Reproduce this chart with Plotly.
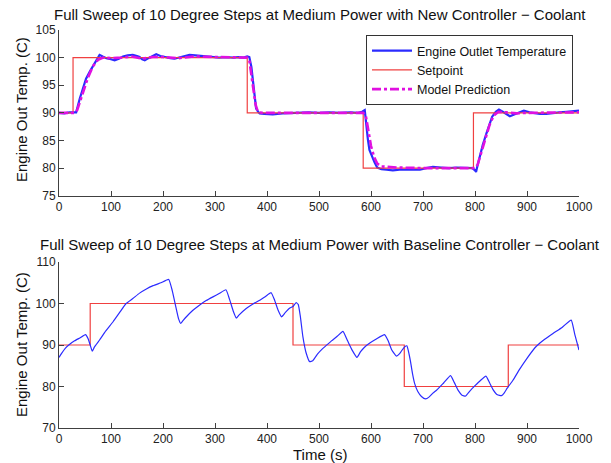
import plotly.graph_objects as go
from plotly.subplots import make_subplots

# ---------------- Data ----------------
# Top: new controller
sp_top_t = [0, 27, 362, 585, 797, 1000]
sp_top_v = [90, 100, 90, 80, 90, 90]

temp_top_t = [0, 10, 20, 30, 33, 40, 52, 60, 68, 78, 84, 91, 100, 107, 115, 123, 132, 142, 150, 155,
              160, 165, 172, 178, 187, 195, 206, 214, 222, 232, 242, 251, 262, 273, 283, 295, 308, 320,
              335, 345, 355, 362, 366, 370, 373, 376, 379, 383, 386, 395, 411, 430, 450, 463, 480, 500,
              520, 540, 560, 575, 583, 588, 591, 594, 597, 602, 607, 612, 620, 630, 642, 655, 670, 682,
              694, 706, 719, 735, 750, 765, 783, 795, 800, 802, 805, 809, 815, 822, 828, 833, 840, 846,
              855, 867, 880, 894, 905, 915, 925, 937, 950, 962, 976, 988, 1000]
temp_top_v = [90.0, 89.9, 90.1, 90.0, 90.1, 92.6, 96.2, 97.6, 98.9, 100.5, 100.2, 99.9, 99.7, 99.5, 99.8,
              100.2, 100.4, 100.5, 100.3, 100.1, 99.7, 99.5, 99.9, 100.2, 100.6, 100.3, 100.0, 99.9, 99.8,
              100.0, 100.3, 100.5, 100.4, 100.3, 100.3, 100.1, 100.0, 100.1, 100.0, 100.1, 100.0, 100.2,
              100.1, 98.3, 95.5, 93.0, 90.8, 90.2, 89.9, 89.8, 89.7, 89.9, 90.0, 90.0, 90.1, 90.0, 90.1,
              90.0, 90.1, 90.0, 90.2, 90.5, 87.5, 85.2, 83.3, 82.0, 81.0, 80.1, 79.8, 79.7, 79.6, 79.7,
              79.7, 79.8, 79.7, 80.0, 80.2, 80.1, 80.0, 80.1, 80.0, 80.0, 79.6, 79.3, 80.5, 82.0, 84.2,
              86.3, 88.0, 89.3, 90.2, 90.6, 90.1, 89.4, 89.9, 90.4, 90.1, 89.9, 89.8, 89.8, 90.0, 90.1,
              90.2, 90.3, 90.4]

model_t = [0, 30, 35, 45, 55, 65, 75, 85, 100, 120, 140, 160, 180, 200, 230, 260, 300, 340, 362, 366,
           370, 374, 378, 382, 390, 420, 480, 540, 585, 590, 595, 600, 606, 612, 620, 650, 700, 750,
           800, 805, 812, 820, 828, 836, 845, 860, 880, 900, 940, 1000]
model_v = [90.0, 90.0, 90.5, 93.5, 96.2, 98.4, 99.6, 100.0, 99.9, 100.0, 100.2, 99.8, 100.1, 100.1,
           99.9, 100.2, 100.1, 100.0, 100.0, 99.5, 97.0, 94.0, 91.5, 90.3, 90.0, 90.0, 90.0, 90.0, 90.0,
           89.5, 86.5, 84.0, 82.0, 80.8, 80.3, 80.1, 80.0, 80.0, 80.0, 80.6, 82.8, 85.5, 87.8, 89.5,
           90.2, 90.1, 89.9, 90.0, 90.0, 90.1]

# Bottom: baseline controller
sp_bot_t = [0, 60, 450, 664, 864, 1000]
sp_bot_v = [90, 100, 90, 80, 90, 90]

temp_bot_t = [0, 5, 12, 20, 30, 40, 51, 56, 60, 64, 68, 78, 90, 104, 117, 129, 142, 155, 168, 181, 196,
              211, 218, 225, 230, 234, 238, 245, 257, 270, 283, 296, 308, 321, 328, 335, 341, 346, 360,
              373, 386, 397, 408, 414, 421, 428, 435, 444, 450, 456, 460, 464, 469, 475, 482, 488, 497,
              506, 514, 524, 535, 546, 555, 564, 573, 580, 587, 597, 611, 626, 633, 640, 649, 655, 660,
              665, 669, 672, 676, 680, 684, 690, 697, 705, 712, 719, 726, 740, 753, 760, 768, 775, 782,
              790, 800, 810, 821, 828, 835, 843, 851, 856, 862, 873, 885, 900, 918, 934, 950, 968, 985,
              992, 1000]
temp_bot_v = [87.0, 88.0, 89.2, 90.1, 91.0, 91.7, 92.5, 91.5, 90.0, 88.5, 89.5, 91.2, 93.4, 95.6, 97.9,
              100.0, 101.2, 102.5, 103.5, 104.3, 105.0, 105.8, 103.0, 99.0, 96.3, 95.2, 95.8, 96.8,
              98.3, 99.6, 100.7, 101.6, 102.4, 103.3, 101.0, 98.2, 96.5, 97.2, 98.8, 99.9, 100.8, 101.7,
              102.6, 101.0, 98.5, 96.8, 97.8, 98.9, 99.3, 100.2, 99.8, 97.0, 92.0, 88.2, 86.0, 86.2,
              87.8, 89.0, 89.9, 91.0, 92.1, 93.3, 91.0, 88.7, 87.0, 88.4, 89.4, 90.4, 91.5, 92.5, 91.0,
              88.8, 87.3, 87.9, 88.8, 89.6, 89.8, 88.5, 86.0, 83.0, 80.7, 78.8, 77.6, 77.0, 77.5, 78.4,
              79.1, 80.9, 82.6, 81.0, 79.0, 77.9, 77.7, 78.9, 80.2, 81.4, 82.5, 80.9, 79.2, 78.0, 77.8,
              78.4, 79.6, 81.5, 84.0, 86.8, 89.7, 91.4, 92.8, 94.3, 96.0, 92.5, 88.8]

x_ticks = [0, 100, 200, 300, 400, 500, 600, 700, 800, 900, 1000]
y_ticks_top = [75, 80, 85, 90, 95, 100, 105]
y_ticks_bot = [70, 80, 90, 100, 110]

title_top = "Full Sweep of 10 Degree Steps at Medium Power with New Controller \u2212 Coolant"
title_bot = "Full Sweep of 10 Degree Steps at Medium Power with Baseline Controller \u2212 Coolant"
ylab = "Engine Out Temp. (C)"
xlab = "Time (s)"

# ---------------- Figure ----------------
FONT = "Liberation Sans, Arial, sans-serif"
W, H = 611, 463
ML, MR, MT, MB = 59, 32, 30, 35
PH = H - MT - MB
top_dom = [1 - (195.7 - MT) / PH, 1.0]
bot_dom = [0.0, 1 - (262 - MT) / PH]

fig = make_subplots(rows=2, cols=1)
BLUE = "#2b2bff"
RED = "#f04040"
MAG = "#e010e0"

fig.add_trace(go.Scatter(x=temp_top_t, y=temp_top_v, mode="lines", name="Engine Outlet Temperature",
                         line=dict(color=BLUE, width=2.2)), row=1, col=1)
fig.add_trace(go.Scatter(x=sp_top_t, y=sp_top_v, mode="lines", name="Setpoint",
                         line=dict(color=RED, width=1.2, shape="hv")), row=1, col=1)
fig.add_trace(go.Scatter(x=model_t, y=model_v, mode="lines", name="Model Prediction",
                         line=dict(color=MAG, width=2.6, dash="dashdot")), row=1, col=1)

fig.add_trace(go.Scatter(x=sp_bot_t, y=sp_bot_v, mode="lines", showlegend=False,
                         line=dict(color=RED, width=1.2, shape="hv")), row=2, col=1)
fig.add_trace(go.Scatter(x=temp_bot_t, y=temp_bot_v, mode="lines", showlegend=False,
                         line=dict(color=BLUE, width=1.2, shape="spline", smoothing=0.4)), row=2, col=1)

axis_common = dict(showline=True, linecolor="#404040", linewidth=1, ticks="inside", ticklen=5,
                   tickcolor="#404040", showgrid=False, zeroline=False, mirror=False,
                   tickfont=dict(family=FONT, size=12, color="#222"))

fig.update_xaxes(range=[0, 1000], tickvals=x_ticks, domain=[0, 1], **axis_common)
fig.update_yaxes(**axis_common)
fig.update_yaxes(range=[75, 105], tickvals=y_ticks_top, domain=top_dom, row=1, col=1)
fig.update_yaxes(range=[70, 110], tickvals=y_ticks_bot, domain=bot_dom, row=2, col=1)

def py(pix):
    return 1 - (pix - MT) / PH

def px(pix):
    return (pix - ML) / (W - ML - MR)

ann = []
ann.append(dict(text=title_top, x=px(320), y=py(14), xref="paper", yref="paper", showarrow=False,
                xanchor="center", yanchor="middle", font=dict(family=FONT, size=15, color="#111")))
ann.append(dict(text=title_bot, x=px(320), y=py(245), xref="paper", yref="paper", showarrow=False,
                xanchor="center", yanchor="middle", font=dict(family=FONT, size=15, color="#111")))
ann.append(dict(text=ylab, x=px(21), y=py(110), xref="paper", yref="paper", showarrow=False,
                textangle=-90, xanchor="center", yanchor="middle", font=dict(family=FONT, size=15, color="#111")))
ann.append(dict(text=ylab, x=px(21), y=py(345), xref="paper", yref="paper", showarrow=False,
                textangle=-90, xanchor="center", yanchor="middle", font=dict(family=FONT, size=15, color="#111")))
ann.append(dict(text=xlab, x=px(320), y=py(455), xref="paper", yref="paper", showarrow=False,
                xanchor="center", yanchor="middle", font=dict(family=FONT, size=15, color="#111")))

fig.update_layout(
    width=W, height=H,
    margin=dict(l=ML, r=MR, t=MT, b=MB),
    paper_bgcolor="white", plot_bgcolor="white",
    font=dict(family=FONT, size=12.5, color="#111"),
    annotations=ann,
    legend=dict(x=px(573), y=py(35), xanchor="right", yanchor="top",
                bgcolor="white", bordercolor="#333", borderwidth=1,
                font=dict(family=FONT, size=12.5, color="#111"),
                itemwidth=40, tracegroupgap=0),
    showlegend=True,
)

fig.write_html("out.html")
